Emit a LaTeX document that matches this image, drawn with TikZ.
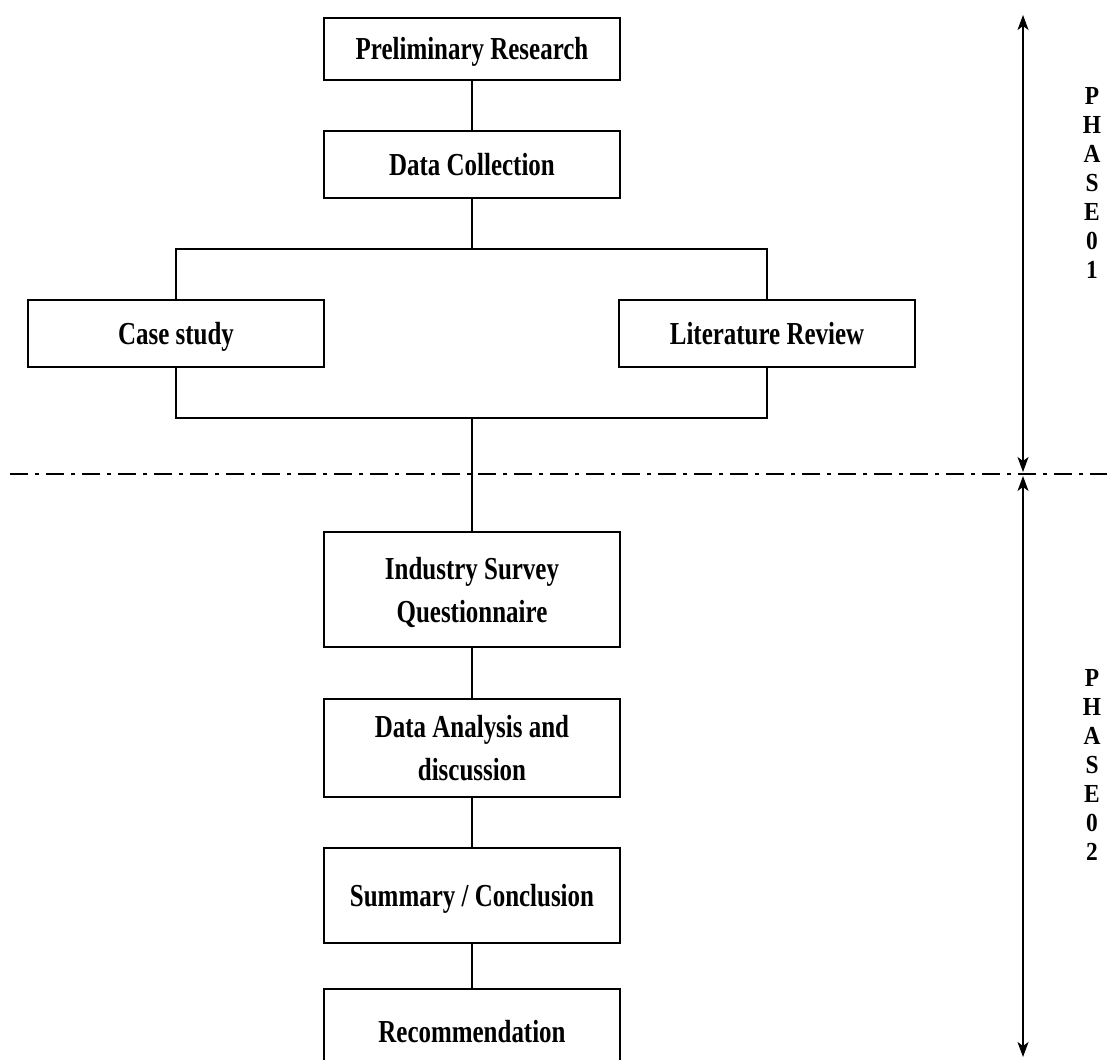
\documentclass[tikz,border=0pt]{standalone}
\usepackage{fontspec}
\newfontfamily\stagefont{Liberation Serif}[FakeStretch=0.78]
\newfontfamily\phasefont{Liberation Serif}[FakeStretch=0.9]
\usetikzlibrary{arrows.meta}
\tikzset{
  stage/.style={draw, line width=1.6pt, minimum width=296pt, inner sep=0pt,
    align=center, text height=22pt, text depth=0pt,
    font=\stagefont\bfseries\fontsize{32}{43}\selectfont},
  twoline/.style={text height=65pt, text depth=0pt},
  phaselabel/.style={align=center, inner sep=0pt,
    font=\phasefont\bfseries\fontsize{26}{29}\selectfont},
  phasearrow/.style={line width=1.4pt,
    {Stealth[inset=4pt,length=15pt,width=11pt]}-{Stealth[inset=4pt,length=15pt,width=11pt]}},
  divider/.style={line width=2.4pt, dash pattern=on 18pt off 7pt on 4pt off 7pt}
}
\begin{document}
\begin{tikzpicture}[x=1pt,y=-1pt]
        \path[use as bounding box, clip] (0,0) rectangle (1107,1059);
        \fill[white] (0,0) rectangle (1107,1059);
        % phase 01
        \node[stage, minimum height=62pt] (prelim) at (472,49) {Preliminary Research};
        \node[stage, minimum height=67pt] (collect) at (472,164.5) {Data Collection};
        \node[stage, minimum height=67pt] (casestudy) at (176,333.5) {Case study};
        \node[stage, minimum height=67pt] (litreview) at (767,333.5) {Literature Review};
        \coordinate (split) at (472,249);
        \coordinate (join) at (472,418);
        % phase 02
        \node[stage, twoline, minimum height=115pt] (survey) at (472,589.5) {Industry Survey\\Questionnaire};
        \node[stage, twoline, minimum height=98pt] (analysis) at (472,748) {Data Analysis and\\discussion};
        \node[stage, minimum height=95pt] (summary) at (472,895.5) {Summary / Conclusion};
        \node[stage, minimum height=84pt] (recommend) at (472,1031) {Recommendation};
        \draw[line width=1.6pt] (prelim) -- (collect);
        \draw[line width=1.6pt] (collect) -- (split);
        \draw[line width=1.6pt] (casestudy.north) |- (split) -| (litreview.north);
        \draw[line width=1.6pt] (casestudy.south) |- (join) -| (litreview.south);
        \draw[line width=1.6pt] (join) -- (survey);
        \draw[line width=1.6pt] (survey) -- (analysis);
        \draw[line width=1.6pt] (analysis) -- (summary);
        \draw[line width=1.6pt] (summary) -- (recommend);
        % divider and phase marks
        \coordinate (divL) at (10,474);
        \coordinate (divR) at (1107,474);
        \draw[divider] (divL) -- (divR);
        \coordinate (ph1top) at (1023,15);
        \coordinate (ph1bot) at (1023,472);
        \coordinate (ph2top) at (1023,476);
        \coordinate (ph2bot) at (1023,1057);
        \draw[phasearrow] (ph1top) -- (ph1bot);
        \draw[phasearrow] (ph2top) -- (ph2bot);
        \node[phaselabel] (phase1) at (1092,183) {P\\H\\A\\S\\E\\0\\1};
        \node[phaselabel] (phase2) at (1092,765) {P\\H\\A\\S\\E\\0\\2};
    \end{tikzpicture}
\end{document}
